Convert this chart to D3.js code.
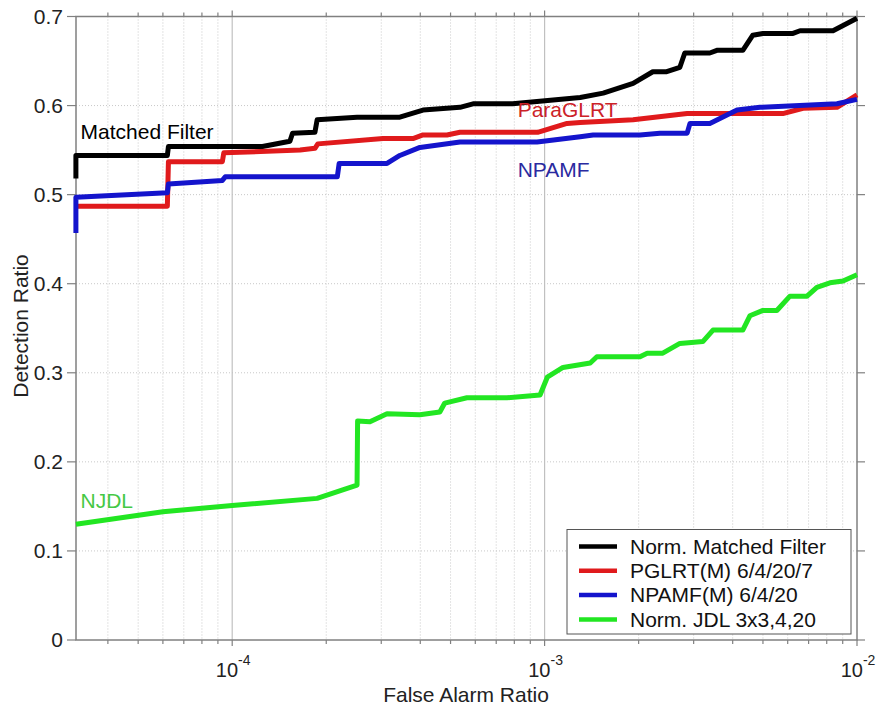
<!DOCTYPE html>
<html>
<head>
<meta charset="utf-8">
<script src="https://cdn.jsdelivr.net/npm/d3@7"></script>
<style>
  body { margin: 0; background: #fff; }
  text { font-family: "Liberation Sans", Arial, sans-serif; }
</style>
</head>
<body>
<div id="chart"></div>
<script>
// series: [false alarm ratio, detection ratio]
var matchedFilter = [[3.16e-5,0.518],[3.16e-5,0.544],[6.2e-5,0.544],[6.25e-5,0.554],[1.25e-4,0.554],[1.53e-4,0.560],[1.56e-4,0.569],[1.84e-4,0.570],[1.87e-4,0.584],[2.51e-4,0.587],[3.44e-4,0.587],[4.08e-4,0.595],[5.36e-4,0.598],[5.9e-4,0.602],[7.9e-4,0.602],[1.3e-3,0.609],[1.54e-3,0.614],[1.92e-3,0.625],[2.22e-3,0.638],[2.46e-3,0.638],[2.71e-3,0.643],[2.81e-3,0.659],[3.38e-3,0.659],[3.56e-3,0.662],[4.31e-3,0.662],[4.64e-3,0.679],[5.0e-3,0.681],[6.24e-3,0.681],[6.57e-3,0.684],[8.38e-3,0.684],[1e-2,0.698]];
var pglrt = [[3.16e-5,0.487],[6.2e-5,0.487],[6.25e-5,0.537],[9.3e-5,0.537],[9.4e-5,0.547],[1.65e-4,0.550],[1.84e-4,0.552],[1.88e-4,0.557],[3.04e-4,0.563],[3.79e-4,0.563],[4.08e-4,0.567],[4.87e-4,0.567],[5.36e-4,0.570],[9.5e-4,0.570],[1.18e-3,0.580],[1.3e-3,0.581],[1.92e-3,0.584],[2.86e-3,0.591],[5.79e-3,0.591],[6.72e-3,0.597],[8.63e-3,0.598],[1e-2,0.612]];
var npamf = [[3.16e-5,0.457],[3.16e-5,0.497],[6.2e-5,0.502],[6.25e-5,0.512],[9.3e-5,0.516],[9.5e-5,0.520],[2.17e-4,0.520],[2.2e-4,0.535],[3.13e-4,0.535],[3.44e-4,0.544],[3.99e-4,0.553],[5.36e-4,0.559],[9.46e-4,0.559],[1.3e-3,0.565],[1.43e-3,0.567],[2.02e-3,0.567],[2.34e-3,0.569],[2.86e-3,0.569],[2.92e-3,0.580],[3.38e-3,0.580],[4.13e-3,0.595],[4.89e-3,0.598],[8.63e-3,0.602],[1e-2,0.607]];
var njdl = [[3.16e-5,0.130],[6.0e-5,0.144],[1.0e-4,0.151],[1.87e-4,0.159],[2.51e-4,0.174],[2.52e-4,0.246],[2.76e-4,0.245],[3.13e-4,0.254],[3.99e-4,0.253],[4.62e-4,0.256],[4.79e-4,0.266],[5.64e-4,0.272],[7.58e-4,0.272],[9.67e-4,0.275],[1.02e-3,0.295],[1.145e-3,0.306],[1.4e-3,0.311],[1.47e-3,0.318],[2.02e-3,0.318],[2.13e-3,0.322],[2.39e-3,0.322],[2.71e-3,0.333],[3.21e-3,0.335],[3.46e-3,0.348],[4.31e-3,0.348],[4.54e-3,0.364],[5.0e-3,0.370],[5.54e-3,0.370],[6.1e-3,0.386],[6.92e-3,0.386],[7.44e-3,0.396],[8.19e-3,0.401],[9.02e-3,0.403],[1e-2,0.410]];

var legendNames = ["Norm. Matched Filter","PGLRT(M) 6/4/20/7","NPAMF(M) 6/4/20","Norm. JDL 3x3,4,20"];
var colors = ["#000000","#e01a1c","#1414cc","#22e622"];
var yTicks = [0,0.1,0.2,0.3,0.4,0.5,0.6,0.7];
var xMajor = [1e-4,1e-3,1e-2];
var xMinor = [4e-5,5e-5,6e-5,7e-5,8e-5,9e-5,2e-4,3e-4,4e-4,5e-4,6e-4,7e-4,8e-4,9e-4,2e-3,3e-3,4e-3,5e-3,6e-3,7e-3,8e-3,9e-3];
var curveLabels = [
  {text:"Matched Filter", x:3.27e-5, y:0.563, color:"#000000"},
  {text:"ParaGLRT", x:8.2e-4, y:0.587, color:"#cc2228"},
  {text:"NPAMF", x:8.2e-4, y:0.520, color:"#2a2aa0"},
  {text:"NJDL", x:3.27e-5, y:0.148, color:"#45c845"}
];

var width = 879, height = 711;
var margin = {left:76, top:16.5, right:22, bottom:71};
var w = width - margin.left - margin.right;
var h = height - margin.top - margin.bottom;

var svg = d3.select("#chart").append("svg")
  .attr("width", width).attr("height", height);
var g = svg.append("g").attr("transform","translate("+margin.left+","+margin.top+")");

var x = d3.scaleLog().domain([Math.pow(10,-4.5),1e-2]).range([0,w]);
var y = d3.scaleLinear().domain([0,0.7]).range([h,0]);

// grid
g.selectAll(".hgrid").data(yTicks.slice(1,-1)).enter().append("line")
  .attr("x1",0).attr("x2",w).attr("y1",function(d){return y(d);}).attr("y2",function(d){return y(d);})
  .attr("stroke","#c8c8c8").attr("stroke-dasharray","1,2");
g.selectAll(".vminor").data(xMinor).enter().append("line")
  .attr("y1",0).attr("y2",h).attr("x1",function(d){return x(d);}).attr("x2",function(d){return x(d);})
  .attr("stroke","#c8c8c8").attr("stroke-dasharray","1,2");
g.selectAll(".vmajor").data(xMajor.slice(0,2)).enter().append("line")
  .attr("y1",0).attr("y2",h).attr("x1",function(d){return x(d);}).attr("x2",function(d){return x(d);})
  .attr("stroke","#c0c0c0").attr("stroke-width",1.2);

// frame
g.append("rect").attr("width",w).attr("height",h)
  .attr("fill","none").attr("stroke","#808080").attr("stroke-width",1.5);

// y ticks
g.selectAll(".ytl").data(yTicks).enter().append("line")
  .attr("x1",-9).attr("x2",0).attr("y1",function(d){return y(d);}).attr("y2",function(d){return y(d);})
  .attr("stroke","#808080").attr("stroke-width",1.2);
g.selectAll(".ytr").data(yTicks).enter().append("line")
  .attr("x1",w).attr("x2",w+8).attr("y1",function(d){return y(d);}).attr("y2",function(d){return y(d);})
  .attr("stroke","#808080").attr("stroke-width",1.2);
g.selectAll(".ylab").data(yTicks).enter().append("text")
  .attr("x",-13).attr("y",function(d){return y(d);}).attr("dy","0.35em")
  .attr("text-anchor","end").attr("font-size",21).attr("fill","#222")
  .text(function(d){return d===0 ? "0" : d3.format(".1f")(d);});

// x ticks
var xAll = xMajor.concat(xMinor);
g.selectAll(".xtb").data(xAll).enter().append("line")
  .attr("y1",h).attr("y2",function(d){return xMajor.indexOf(d)>=0 ? h+6 : h+4;})
  .attr("x1",function(d){return x(d);}).attr("x2",function(d){return x(d);})
  .attr("stroke","#808080").attr("stroke-width",1.2);
g.selectAll(".xtt").data(xAll).enter().append("line")
  .attr("y1",0).attr("y2",function(d){return xMajor.indexOf(d)>=0 ? -6 : -4;})
  .attr("x1",function(d){return x(d);}).attr("x2",function(d){return x(d);})
  .attr("stroke","#808080").attr("stroke-width",1.2);
var xl = g.selectAll(".xlab").data(xMajor).enter().append("text")
  .attr("x",function(d){return x(d)+1;}).attr("y",677 - margin.top)
  .attr("text-anchor","middle").attr("font-size",20).attr("fill","#222");
xl.append("tspan").text("10");
xl.append("tspan").attr("font-size",14).attr("dy",-12)
  .text(function(d){return "-" + Math.round(-Math.log10(d));});

// axis titles
svg.append("text").attr("x",466).attr("y",702)
  .attr("text-anchor","middle").attr("font-size",21).attr("fill","#222").text("False Alarm Ratio");
svg.append("text").attr("transform","translate(28,326) rotate(-90)")
  .attr("text-anchor","middle").attr("font-size",21).attr("fill","#222").text("Detection Ratio");

// curves
var line = d3.line().x(function(d){return x(d[0]);}).y(function(d){return y(d[1]);});
var series = [matchedFilter,pglrt,npamf,njdl];
g.selectAll(".curve").data(series).enter().append("path")
  .attr("d",line).attr("fill","none")
  .attr("stroke",function(d,i){return colors[i];})
  .attr("stroke-width",5).attr("stroke-linejoin","round");

// curve labels
g.selectAll(".clab").data(curveLabels).enter().append("text")
  .attr("x",function(d){return x(d.x);})
  .attr("y",function(d){return y(d.y);})
  .attr("font-size",21).attr("fill",function(d){return d.color;})
  .text(function(d){return d.text;});

// legend
var lg = svg.append("g").attr("transform","translate(567,529.5)");
lg.append("rect").attr("width",284).attr("height",104.5)
  .attr("fill","#fff").attr("stroke","#555").attr("stroke-width",1);
legendNames.forEach(function(n,i){
  var yy = 17 + i*24.3;
  lg.append("line").attr("x1",12).attr("x2",50).attr("y1",yy).attr("y2",yy)
    .attr("stroke",colors[i]).attr("stroke-width",4.5);
  lg.append("text").attr("x",63).attr("y",yy).attr("dy","0.35em")
    .attr("font-size",21).attr("fill","#111").text(n);
});
</script>
</body>
</html>
